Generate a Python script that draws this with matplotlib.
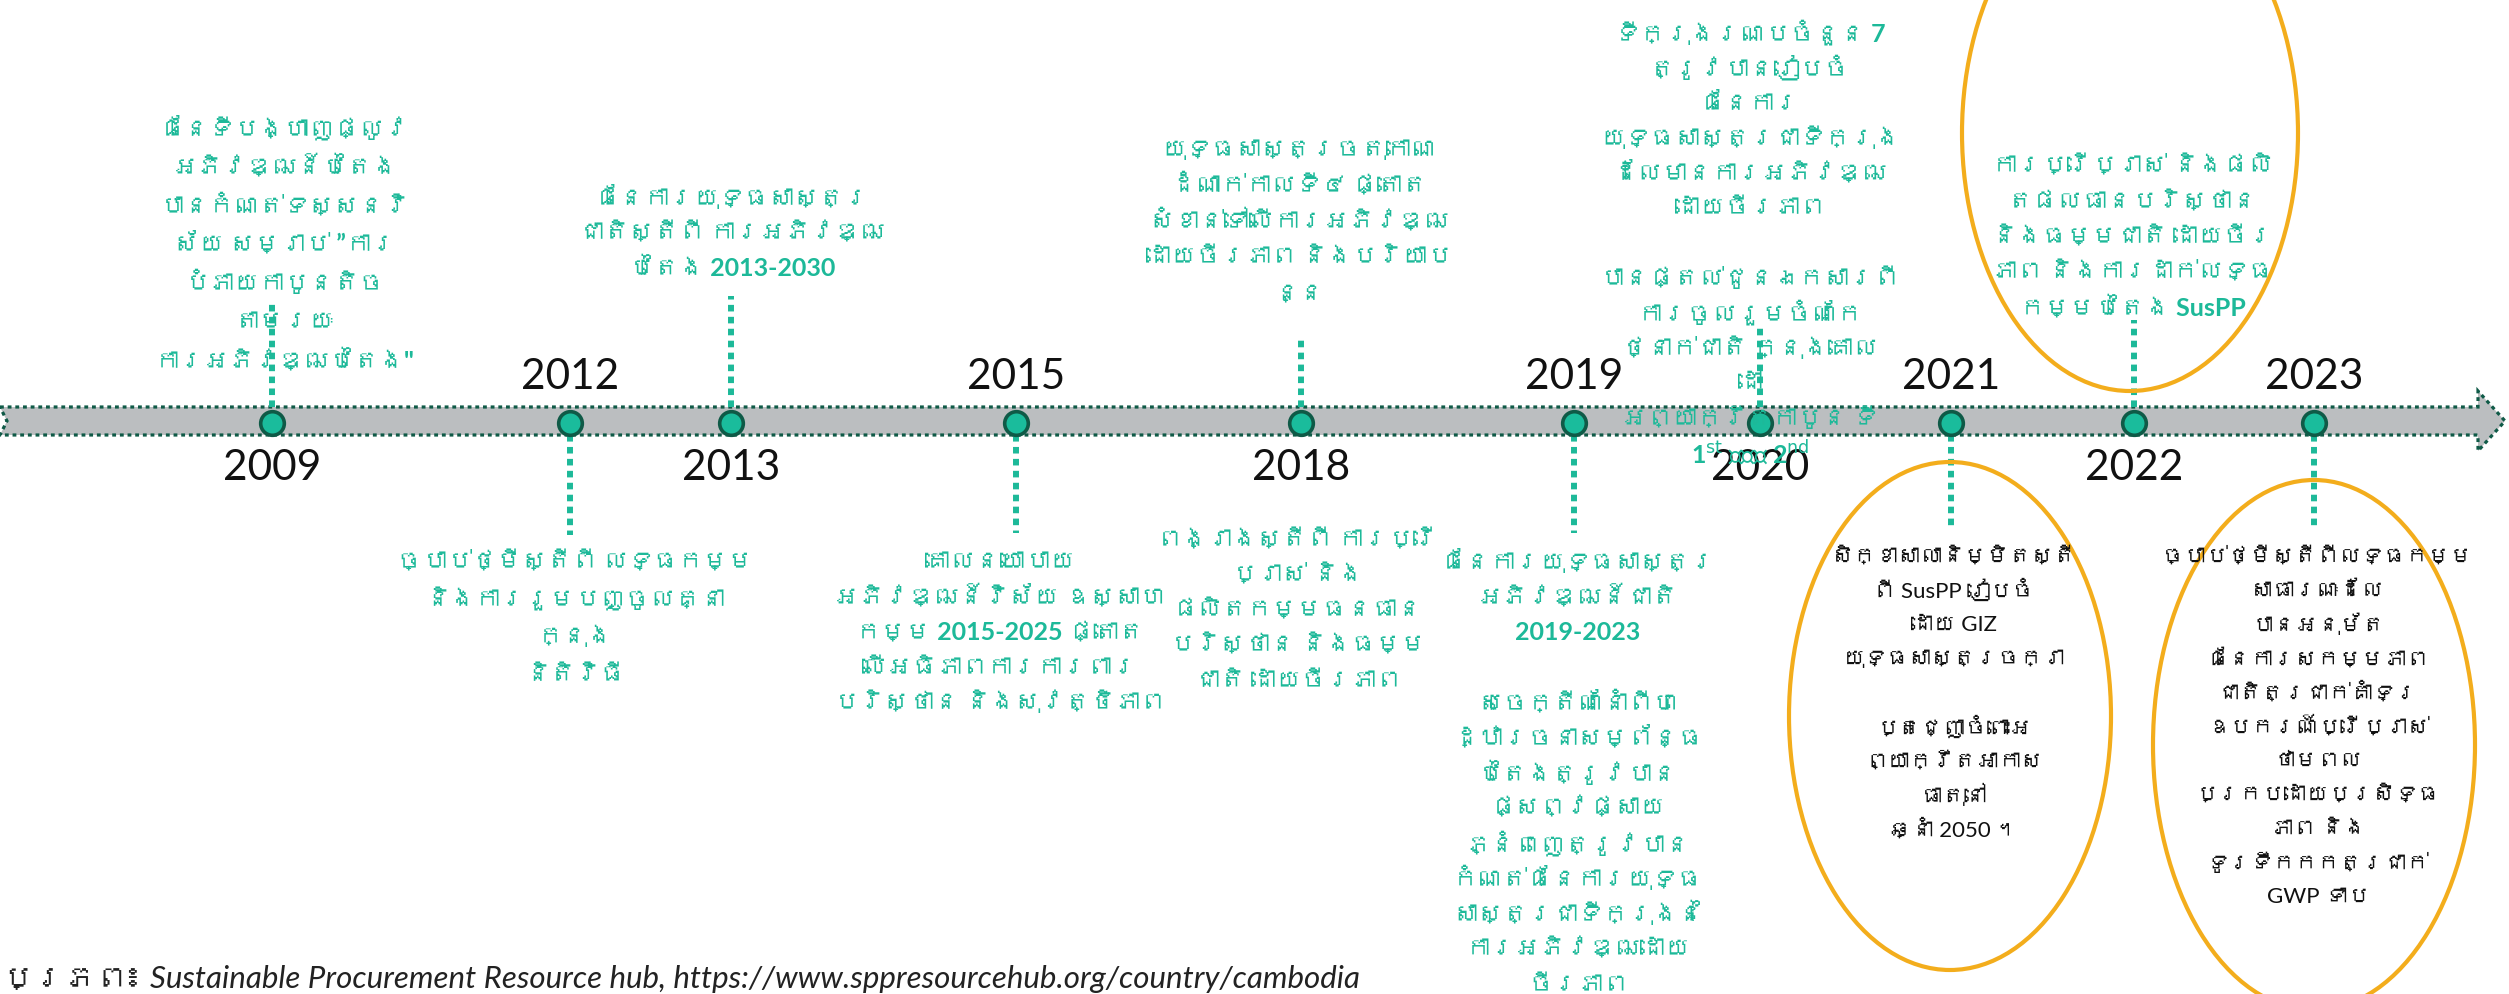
import warnings, logging
warnings.filterwarnings('ignore')
logging.getLogger('matplotlib').setLevel(logging.ERROR)
import matplotlib
matplotlib.use('Agg')
import matplotlib.pyplot as plt
from matplotlib import font_manager
from matplotlib.patches import Ellipse, Polygon

# ---------------- data ----------------
years = ['2009', '2012', '2013', '2015', '2018', '2019', '2020', '2021', '2022', '2023']
year_side = ['below', 'above', 'below', 'above', 'below', 'above', 'below', 'above', 'below', 'above']

text_above = {
    '2009': "ផែនទីបង្ហាញផ្លូវ\nអភិវឌ្ឍន៍បៃតង\nបានកំណត់ទស្សនវិ\nស័យ សម្រាប់ ”ការ\nបំភាយកាបូនតិច\nតាមរយៈ\nការអភិវឌ្ឍបៃតង\"",
    '2013': "ផែនការយុទ្ធសាស្ត្រ\nជាតិស្តីពី ការអភិវឌ្ឍ\nបៃតង 2013-2030",
    '2018': "យុទ្ធសាស្ត្រចតុកោណ\nដំណាក់កាលទី៤ ផ្តោត\nសំខាន់ទៅលើការអភិវឌ្ឍ\nដោយចីរភាព និងបរិយាប\nន្ន",
    '2020': "ទីក្រុងរណបចំនួន 7\nត្រូវបានរៀបចំ\nផែនការ\nយុទ្ធសាស្ត្រជាទីក្រុង\nដែលមានការអភិវឌ្ឍ\nដោយចីរភាព\n\nបានផ្តល់ជូនឯកសារពី\nការចូលរួមចំណែក\nថ្នាក់ជាតិ ក្នុងគោល\nដៅ\nអព្យាក្រឹតកាបូន ទី\n1$^{\\mathrm{st}}$ និង 2$^{\\mathrm{nd}}$",
    '2022': "ការប្រើប្រាស់ និងផលិ\nតផលធានបរិស្ថាន\nនិងធម្មជាតិ ដោយចីរ\nភាព និងការដាក់លទ្ធ\nកម្មបៃតង SusPP",
}
text_below = {
    '2012': "ច្បាប់ថ្មីស្តីពី លទ្ធកម្ម\nនិងការរួមបញ្ចូលគ្នា\nក្នុង\nនិតិវិធី",
    '2015': "គោលនយោបាយ\nអភិវឌ្ឍន៍វិស័យ ឧស្សាហ\nកម្ម 2015-2025 ផ្តោត\nលើអធិភាពការការពារ\nបរិស្ថាន និងសុវត្ថិភាព",
    '2018': "ពង្រាងស្តីពី ការប្រើ\nប្រាស់ និង\nផលិតកម្មធនធាន\nបរិស្ថាន និងធម្ម\nជាតិ ដោយចីរភាព",
    '2019': "ផែនការយុទ្ធសាស្ត្រ\nអភិវឌ្ឍន៍ជាតិ\n2019-2023\n\nសេចក្តីណែនាំពីហេ\nដ្ឋារចនាសម្ព័ន្ធ\nបៃតងត្រូវបាន\nផ្សព្វផ្សាយ\nភ្នំពេញត្រូវបាន\nកំណត់ផែនការយុទ្ធ\nសាស្ត្រជាទីក្រុងនៃ\nការអភិវឌ្ឍដោយ\nចីរភាព",
    '2021': "សិក្ខាសាលានិម្មិតស្តី\nពី SusPP រៀបចំ\nដោយ GIZ\nយុទ្ធសាស្ត្រចក្រា\n\nប្តេជ្ញាចំពោះអ\nព្យាក្រឹតអាកាស\nធាតុនៅ\nឆ្នាំ 2050 ។",
    '2023': "ច្បាប់ថ្មីស្តីពីលទ្ធកម្ម\nសាធារណៈដែល\nបានអនុម័ត\nផែនការសកម្មភាព\nជាតិត្រជាក់គាំទ្រ\nឧបករណ៍ប្រើប្រាស់\nថាមពល\nប្រកបដោយប្រសិទ្ធ\nភាព និង\nទូរទឹកកកត្រជាក់\nGWP ទាប",
}
circled = ['2021', '2023']          # black text in ellipses below
source_text = "ប្រភព៖ Sustainable Procurement Resource hub, https://www.sppresourcehub.org/country/cambodia"

# ---------------- layout (drawing space = pixels) ----------------
W, H = 2509, 994
event_x = [272, 570, 731, 1016, 1301, 1574, 1760, 1951, 2134, 2314]
bar_top, bar_bot, bar_mid = 407, 435, 421
marker_y = 423
year_y = {'above': 377, 'below': 468}
# (center x, center y, line step)
above_pos = {'2009': (285, 244, 38.7), '2013': (732, 233, 35.5), '2018': (1299, 221, 36.0),
             '2020': (1750, 243, 35.0), '2022': (2133, 237, 35.3)}
below_pos = {'2012': (575, 618, 37.7), '2015': (1000, 632, 35.3), '2018': (1298, 610, 35.0),
             '2019': (1578, 773, 35.2), '2021': (1954, 693, 34.2), '2023': (2318, 727, 34.0)}
conn_up = {'2009': 300, '2013': 296, '2018': 340, '2020': 327, '2022': 320}
conn_down = {'2012': 535, '2015': 533, '2019': 533, '2021': 530, '2023': 530}
ell_geom = {'2022': (2130, 133, 336, 516), '2021': (1950, 716, 322, 508),
            '2023': (2314, 745, 322, 530)}

TEAL = '#1db999'
DARK = '#0f5a47'
GRAY = '#bbbec0'
ORANGE = '#f3ad1c'


def find_khmer():
    try:
        from fontTools.ttLib import TTFont
    except Exception:
        return None
    for f in font_manager.fontManager.ttflist:
        try:
            tt = TTFont(f.fname, fontNumber=0, lazy=True)
            cmap = tt.getBestCmap() or {}
            if 0x1780 in cmap and 0x17D2 in cmap and 0x17D4 in cmap:
                return f.name
        except Exception:
            continue
    return None


KH = find_khmer()
kh_family = ['Lato', KH, 'DejaVu Sans'] if KH else ['Lato', 'DejaVu Sans']
KH_SIZE = 18
KH_SIZE_BLACK = 16

fig = plt.figure(figsize=(W / 100, H / 100), dpi=100)
ax = fig.add_axes([0, 0, 1, 1])
ax.set_xlim(0, W)
ax.set_ylim(H, 0)
ax.axis('off')

# timeline bar
shape = [(0, bar_top), (2478, bar_top), (2478, 391), (2505, bar_mid), (2478, 451),
         (2478, bar_bot), (0, bar_bot), (7, bar_mid)]
ax.add_patch(Polygon(shape, closed=True, facecolor=GRAY, edgecolor='none', zorder=1))
ax.add_patch(Polygon(shape, closed=True, facecolor='none', edgecolor=DARK,
                     linewidth=2.3, linestyle=(0, (1.2, 1.2)), zorder=2))

# connectors
for y, top in conn_up.items():
    x = event_x[years.index(y)]
    ax.plot([x, x], [bar_top, top], color=TEAL, lw=4.3, ls=(0, (1.1, 0.9)),
            dash_capstyle='butt', zorder=3)
for y, bot in conn_down.items():
    x = event_x[years.index(y)]
    ax.plot([x, x], [bar_bot, bot], color=TEAL, lw=4.3, ls=(0, (1.1, 0.9)),
            dash_capstyle='butt', zorder=3)

# markers
ax.plot(event_x, [marker_y] * len(event_x), 'o', ms=17, mfc='#1abc9c', mec=DARK,
        mew=2.6, zorder=5, ls='none')

# year labels
for y, x, side in zip(years, event_x, year_side):
    ax.text(x, year_y[side], y, ha='center', va='center', fontsize=30.5,
            family=['Lato', 'DejaVu Sans'], color='#111111', zorder=6)

# ellipses
for key, (cx, cy, w, h) in ell_geom.items():
    ax.add_patch(Ellipse((cx, cy), w, h, facecolor='none', edgecolor=ORANGE,
                         linewidth=3.0, zorder=4))


def draw_block(x, cy, step, txt, color, weight, size):
    lines = txt.split('\n')
    n = len(lines)
    for i, line in enumerate(lines):
        if not line:
            continue
        ly = cy + (i - (n - 1) / 2) * step
        ax.text(x, ly, line, ha='center', va='center', fontsize=size,
                fontweight=weight, family=kh_family, color=color, zorder=6)


for y, txt in text_above.items():
    x, cy, step = above_pos[y]
    draw_block(x, cy, step, txt, TEAL, 'bold', KH_SIZE)
for y, txt in text_below.items():
    x, cy, step = below_pos[y]
    if y in circled:
        draw_block(x, cy, step, txt, '#111111', 'normal', KH_SIZE_BLACK)
    else:
        draw_block(x, cy, step, txt, TEAL, 'bold', KH_SIZE)

# source line
ax.text(2, 988, source_text, ha='left', va='baseline', fontsize=22.5,
        style='italic', family=kh_family, color='#222222', zorder=6)

fig.savefig('out.png', dpi=100)
